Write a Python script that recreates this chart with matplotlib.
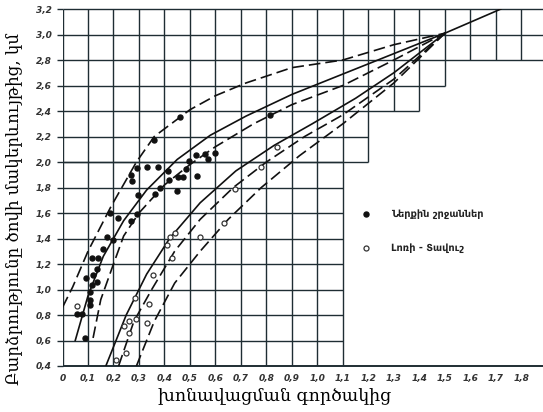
import matplotlib.pyplot as plt

# кривые (x, y) - зачитаны с рисунка
c1_x = [0.0, 0.04, 0.1, 0.19, 0.29, 0.36, 0.5, 0.6, 0.72, 0.9, 1.1, 1.3, 1.5]
c1_y = [0.86, 1.02, 1.3, 1.65, 2.0, 2.2, 2.41, 2.52, 2.62, 2.74, 2.8, 2.92, 3.01]
c2_x = [0.05, 0.1, 0.16, 0.24, 0.33, 0.45, 0.58, 0.72, 0.9, 1.1, 1.3, 1.5]
c2_y = [0.6, 0.95, 1.26, 1.54, 1.78, 2.02, 2.21, 2.36, 2.53, 2.69, 2.85, 3.01]
c3_x = [0.12, 0.15, 0.2, 0.24, 0.3, 0.4, 0.5, 0.6, 0.75, 0.9, 1.1, 1.3, 1.5]
c3_y = [0.62, 0.92, 1.2, 1.42, 1.6, 1.82, 1.98, 2.12, 2.3, 2.45, 2.6, 2.8, 3.01]
c4_x = [0.17, 0.25, 0.33, 0.42, 0.54, 0.68, 0.83, 0.98, 1.15, 1.3, 1.5]
c4_y = [0.4, 0.8, 1.12, 1.4, 1.68, 1.93, 2.13, 2.3, 2.5, 2.7, 3.01]
c5_x = [0.22, 0.28, 0.35, 0.44, 0.54, 0.67, 0.8, 0.95, 1.1, 1.3, 1.5]
c5_y = [0.4, 0.75, 1.0, 1.3, 1.55, 1.8, 2.0, 2.2, 2.37, 2.65, 3.01]
c6_x = [0.29, 0.36, 0.44, 0.54, 0.65, 0.78, 0.93, 1.1, 1.3, 1.5]
c6_y = [0.4, 0.75, 1.05, 1.3, 1.55, 1.8, 2.05, 2.3, 2.62, 3.01]
tail_x = [1.5, 1.72]
tail_y = [3.01, 3.2]

# Ներքին շրջաններ - черные точки
in_x = [0.088, 0.055, 0.075, 0.108, 0.108, 0.108, 0.114, 0.136, 0.092, 0.121, 0.134, 0.117,
        0.138, 0.16, 0.173, 0.199, 0.186, 0.219, 0.267, 0.291, 0.297, 0.271, 0.269, 0.291,
        0.33, 0.376, 0.36, 0.461, 0.363, 0.382, 0.415, 0.419, 0.45, 0.454, 0.474, 0.484,
        0.497, 0.523, 0.526, 0.559, 0.572, 0.598, 0.814]
in_y = [0.62, 0.81, 0.81, 0.88, 0.92, 0.98, 1.035, 1.06, 1.09, 1.11, 1.16, 1.245,
        1.25, 1.32, 1.41, 1.39, 1.6, 1.56, 1.54, 1.59, 1.74, 1.85, 1.9, 1.95,
        1.96, 1.96, 2.17, 2.35, 1.75, 1.8, 1.93, 1.86, 1.77, 1.885, 1.885, 1.945,
        2.01, 2.055, 1.89, 2.06, 2.02, 2.07, 2.37]

# Լոռի - Տավուշ - пустые кружки
lt_x = [0.055, 0.21, 0.25, 0.26, 0.24, 0.26, 0.29, 0.33, 0.285, 0.34, 0.356, 0.41,
        0.42, 0.44, 0.43, 0.54, 0.635, 0.675, 0.78, 0.84]
lt_y = [0.87, 0.45, 0.5, 0.66, 0.71, 0.75, 0.77, 0.74, 0.93, 0.89, 1.11, 1.35,
        1.41, 1.44, 1.245, 1.41, 1.52, 1.79, 1.96, 2.115]

x_ticks = [0.0, 0.1, 0.2, 0.3, 0.4, 0.5, 0.6, 0.7, 0.8, 0.9, 1.0, 1.1, 1.2, 1.3, 1.4, 1.5, 1.6, 1.7, 1.8]
x_labels = ['0', '0,1', '0,2', '0,3', '0,4', '0,5', '0,6', '0,7', '0,8', '0,9', '1,0',
            '1,1', '1,2', '1,3', '1,4', '1,5', '1,6', '1,7', '1,8']
y_ticks = [0.4, 0.6, 0.8, 1.0, 1.2, 1.4, 1.6, 1.8, 2.0, 2.2, 2.4, 2.6, 2.8, 3.0, 3.2]
y_labels = ['0,4', '0,6', '0,8', '1,0', '1,2', '1,4', '1,6', '1,8', '2,0', '2,2', '2,4',
            '2,6', '2,8', '3,0', '3,2']

fig = plt.figure(figsize=(5.43, 4.12), dpi=100)
ax = fig.add_axes([62.5 / 543, 46 / 412, (543 - 62.5) / 543, 357 / 412])
ax.set_xlim(0, 1.885)
ax.set_ylim(0.4, 3.2)
for s in ax.spines.values():
    s.set_visible(False)

# сетка лесенкой
gc = '#1f2d33'
glw = 1.0
for i in range(12):
    ax.vlines(i * 0.1, 0.4, 3.2, color=gc, lw=glw, zorder=1)
ax.vlines(1.2, 2.0, 3.2, color=gc, lw=glw, zorder=1)
ax.vlines([1.3, 1.4], 2.4, 3.2, color=gc, lw=glw, zorder=1)
ax.vlines(1.5, 2.6, 3.2, color=gc, lw=glw, zorder=1)
ax.vlines([1.6, 1.7, 1.8], 2.8, 3.2, color=gc, lw=glw, zorder=1)
ax.hlines(0.4, 0, 1.885, color=gc, lw=1.4, zorder=1, clip_on=False)
for k in range(1, 9):
    ax.hlines(0.4 + k * 0.2, 0, 1.1, color=gc, lw=glw, zorder=1)
ax.hlines([2.0, 2.2], 0, 1.2, color=gc, lw=glw, zorder=1)
ax.hlines(2.4, 0, 1.4, color=gc, lw=glw, zorder=1)
ax.hlines(2.6, 0, 1.5, color=gc, lw=glw, zorder=1)
ax.hlines([2.8, 3.0, 3.2], 0, 1.885, color=gc, lw=glw, zorder=1, clip_on=False)

lc = '#111111'
dash = (0, (7, 3))
ax.plot(c1_x, c1_y, color=lc, lw=1.2, linestyle=dash, zorder=3)
ax.plot(c2_x, c2_y, color=lc, lw=1.2, zorder=3)
ax.plot(c3_x, c3_y, color=lc, lw=1.2, linestyle=dash, zorder=3)
ax.plot(c4_x, c4_y, color=lc, lw=1.2, zorder=3)
ax.plot(c5_x, c5_y, color=lc, lw=1.2, linestyle=dash, zorder=3)
ax.plot(c6_x, c6_y, color=lc, lw=1.2, linestyle=dash, zorder=3)
ax.plot(tail_x, tail_y, color=lc, lw=1.2, zorder=3)

ax.plot(in_x, in_y, 'o', color='#111111', ms=3.6, zorder=4, label='Ներքին շրջաններ')
ax.plot(lt_x, lt_y, 'o', mfc='white', mec='#333333', mew=0.9, ms=3.6, zorder=4,
        label='Լոռի - Տավուշ')

leg = ax.legend(loc='upper left', bbox_to_anchor=(0.622, 0.44),
                frameon=False, fontsize=7, handlelength=1.0, handletextpad=2.0,
                labelspacing=2.5, borderaxespad=0, borderpad=0)
for t in leg.get_texts():
    t.set_fontweight('bold')
    t.set_color('#222222')

tfont = dict(family=['Liberation Sans Narrow', 'DejaVu Sans'], style='italic',
             weight='bold', size=6.5)
ax.set_xticks(x_ticks)
ax.set_xticklabels(x_labels, **tfont, color='#333333')
ax.set_yticks(y_ticks)
ax.set_yticklabels(y_labels, **tfont, color='#333333')
ax.tick_params(axis='x', length=0, pad=6)
ax.tick_params(axis='y', length=4, width=1, color=gc, pad=4)

ax.set_xlabel('խոնավացման գործակից', family='DejaVu Serif', fontsize=12.5)
ax.set_ylabel('Բարձրությունը ծովի մակերևույթից, կմ', family='DejaVu Serif', fontsize=12)
ax.xaxis.set_label_coords(0.442, -0.062)
ax.yaxis.set_label_coords(-0.083, 0.44)

fig.savefig('out.png', dpi=100)
